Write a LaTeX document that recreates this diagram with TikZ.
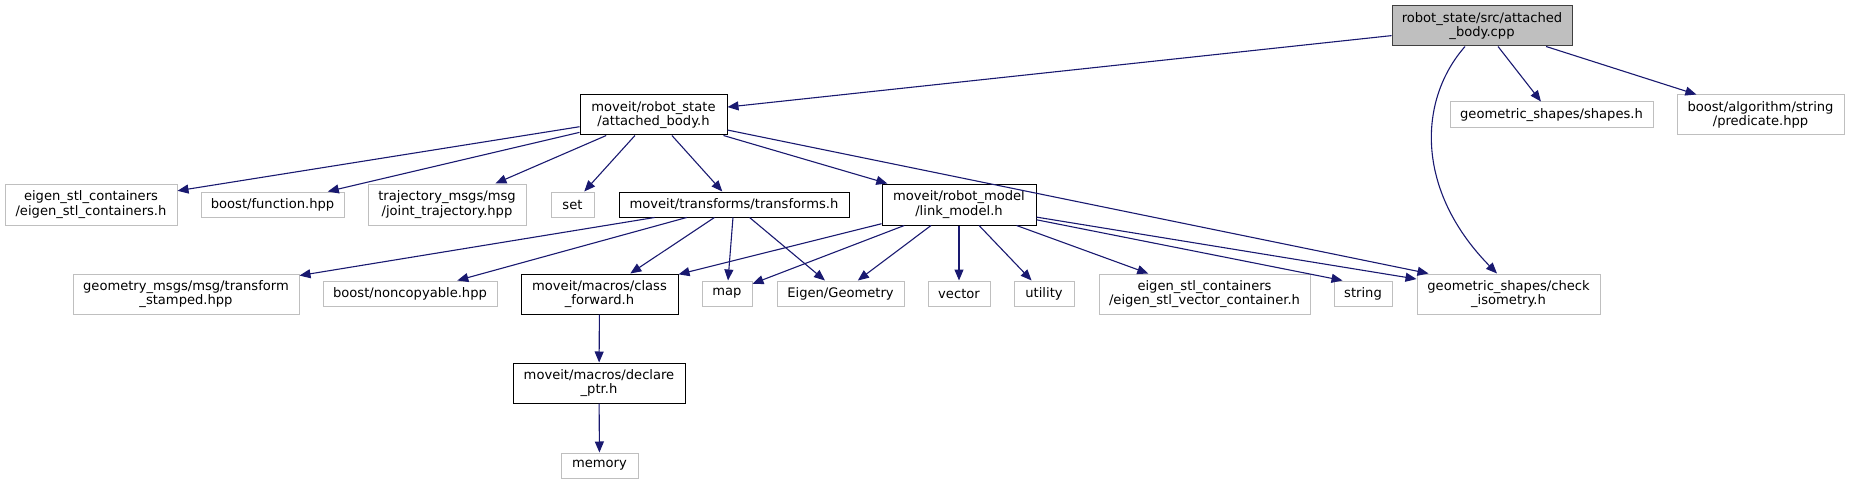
\documentclass[tikz,border=0pt]{standalone}
\usepackage{fontspec}
\setmainfont{DejaVu Sans}
\usetikzlibrary{arrows.meta}
\definecolor{edgeblue}{HTML}{191970}
\definecolor{lightborder}{HTML}{BFBFBF}
\definecolor{rootfill}{HTML}{BFBFBF}
\definecolor{rootborder}{HTML}{404040}
\tikzset{
  basebox/.style={rectangle, inner sep=0pt, align=center, line width=1pt,
    font=\fontsize{13.1}{14.3}\selectfont},
  docbox/.style={basebox, draw=black},
  extbox/.style={basebox, draw=lightborder},
  rootbox/.style={basebox, draw=rootborder, fill=rootfill},
  edge/.style={draw=edgeblue, line width=1.1pt, -{Triangle[length=11pt,width=9pt]}},
}
\begin{document}
\begin{tikzpicture}[x=1pt,y=-1pt]
\useasboundingbox (0,0) rectangle (1849,484);
% nodes
\node[rootbox, minimum width=180pt, minimum height=40pt] (root) at (1482,26) {robot\_state/src/attached\\\_body.cpp};
\node[docbox, minimum width=147pt, minimum height=40pt] (ab) at (653.5,115) {moveit/robot\_state\\/attached\_body.h};
\node[extbox, minimum width=203pt, minimum height=26pt] (sh) at (1551.5,115) {geometric\_shapes/shapes.h};
\node[extbox, minimum width=167pt, minimum height=40pt] (pr) at (1760.5,115) {boost/algorithm/string\\/predicate.hpp};

\node[extbox, minimum width=172pt, minimum height=41pt] (esc) at (91,204.5) {eigen\_stl\_containers\\/eigen\_stl\_containers.h};
\node[extbox, minimum width=143pt, minimum height=25pt] (bf) at (272.5,204.5) {boost/function.hpp};
\node[extbox, minimum width=158pt, minimum height=41pt] (traj) at (447,204.5) {trajectory\_msgs/msg\\/joint\_trajectory.hpp};
\node[extbox, minimum width=43pt, minimum height=25pt] (set) at (572.5,204.5) {set};
\node[docbox, minimum width=230pt, minimum height=25pt] (tf) at (734,204.5) {moveit/transforms/transforms.h};
\node[docbox, minimum width=154pt, minimum height=41pt] (lm) at (959,204.5) {moveit/robot\_model\\/link\_model.h};

\node[extbox, minimum width=226pt, minimum height=40pt] (gm) at (186,294) {geometry\_msgs/msg/transform\\\_stamped.hpp};
\node[extbox, minimum width=174pt, minimum height=25pt] (nc) at (410,293.5) {boost/noncopyable.hpp};
\node[docbox, minimum width=157pt, minimum height=40pt] (cf) at (599.5,294) {moveit/macros/class\\\_forward.h};
\node[extbox, minimum width=50pt, minimum height=25pt] (map) at (727,293.5) {map};
\node[extbox, minimum width=127pt, minimum height=25pt] (eg) at (840.5,293.5) {Eigen/Geometry};
\node[extbox, minimum width=62pt, minimum height=25pt] (vec) at (959,293.5) {vector};
\node[extbox, minimum width=60pt, minimum height=25pt] (util) at (1044,293.5) {utility};
\node[extbox, minimum width=211pt, minimum height=40pt] (esv) at (1204.5,294) {eigen\_stl\_containers\\/eigen\_stl\_vector\_container.h};
\node[extbox, minimum width=58pt, minimum height=25pt] (str) at (1363,293.5) {string};
\node[extbox, minimum width=183pt, minimum height=40pt] (ci) at (1508.5,294) {geometric\_shapes/check\\\_isometry.h};

\node[docbox, minimum width=172pt, minimum height=40pt] (dp) at (599,383) {moveit/macros/declare\\\_ptr.h};
\node[extbox, minimum width=77pt, minimum height=25pt] (mem) at (599.5,465.5) {memory};

% edges
\draw[edge] (root) -- (ab);
\draw[edge] (root) -- (sh);
\draw[edge] (root) -- (pr);
\draw[edge] ([xshift=-17pt]root.south) .. controls (1418,100) and (1415,190) .. ([xshift=-11.5pt]ci.north);

\draw[edge] (ab) -- (esc);
\draw[edge] (ab) -- (bf);
\draw[edge] (ab) -- (traj);
\draw[edge] (ab) -- (set);
\draw[edge] (ab) -- (tf);
\draw[edge] (ab) -- (lm);
\draw[edge] (ab) -- ([xshift=12pt]ci.north west);

\draw[edge] (tf) -- (gm);
\draw[edge] (tf) -- (nc);
\draw[edge] (tf) -- (cf);
\draw[edge] (tf) -- (map);
\draw[edge] (tf) -- (eg);

\draw[edge] (lm) -- (cf);
\draw[edge] (lm) -- (map);
\draw[edge] (lm) -- (eg);
\draw[edge] (lm) -- (vec);
\draw[edge] (lm) -- (util);
\draw[edge] (lm) -- (esv);
\draw[edge] (lm) -- ([xshift=9pt]str.north west);
\draw[edge] (lm) -- (ci);

\draw[edge] (cf) -- (dp);
\draw[edge] (dp) -- (mem);
\end{tikzpicture}
\end{document}
